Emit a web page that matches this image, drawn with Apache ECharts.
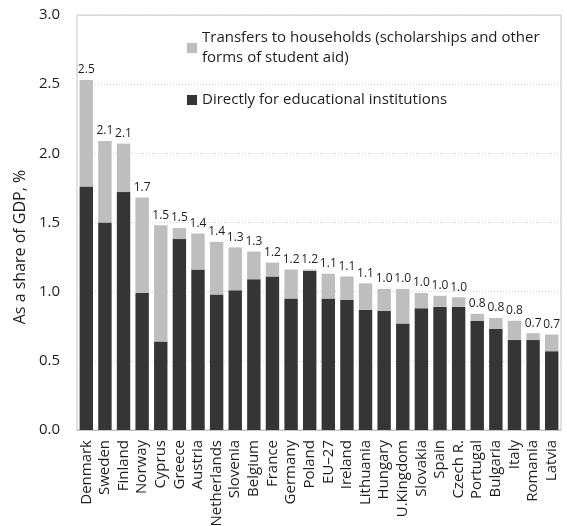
<!DOCTYPE html>
<html>
<head>
<meta charset="utf-8">
<script src="https://cdn.jsdelivr.net/npm/echarts@6/dist/echarts.min.js"></script>
<style>
  html, body { margin: 0; padding: 0; background: #fff; }
  #chart { width: 567px; height: 526px; }
</style>
</head>
<body>
<div id="chart"></div>
<script>
// Public expenditure on tertiary education, as a share of GDP (%)
const countries = ['Denmark', 'Sweden', 'Finland', 'Norway', 'Cyprus', 'Greece', 'Austria',
  'Netherlands', 'Slovenia', 'Belgium', 'France', 'Germany', 'Poland', 'EU\u201327', 'Ireland',
  'Lithuania', 'Hungary', 'U.Kingdom', 'Slovakia', 'Spain', 'Czech R.', 'Portugal', 'Bulgaria',
  'Italy', 'Romania', 'Latvia'];

// Spending directly for educational institutions
const institutions = [1.76, 1.50, 1.72, 0.99, 0.64, 1.38, 1.16, 0.98, 1.01, 1.09, 1.11, 0.95, 1.15,
  0.95, 0.94, 0.87, 0.86, 0.77, 0.88, 0.89, 0.89, 0.79, 0.73, 0.65, 0.65, 0.57];

// Transfers to households (scholarships and other student aid)
const transfers = [0.77, 0.59, 0.35, 0.69, 0.84, 0.08, 0.26, 0.38, 0.31, 0.20, 0.10, 0.21, 0.01,
  0.18, 0.17, 0.19, 0.16, 0.25, 0.11, 0.08, 0.07, 0.05, 0.08, 0.14, 0.05, 0.12];

const yTicks = [0, 0.5, 1.0, 1.5, 2.0, 2.5, 3.0];

const nameInst = 'Directly for educational institutions';
const nameTransfers = 'Transfers to households (scholarships and other forms of student aid)';

const totals = institutions.map((v, i) => v + transfers[i]);

const FONT = '"Open Sans", sans-serif';
const TXT = '#1e1e1e';

const chart = echarts.init(document.getElementById('chart'), null, { renderer: 'canvas' });

chart.setOption({
  animation: false,
  backgroundColor: '#ffffff',
  textStyle: { fontFamily: FONT },
  grid: {
    left: 77, right: 6, top: 15, bottom: 96,
    outerBoundsMode: 'none',
    containLabel: false,
    show: true, borderColor: '#c4c4c4', borderWidth: 1
  },
  legend: [
    {
      data: [nameTransfers],
      left: 187, top: 18, padding: 0,
      itemWidth: 10, itemHeight: 10,
      icon: 'rect',
      selectedMode: false,
      formatter: () => 'Transfers to households (scholarships and other\nforms of student aid)',
      textStyle: { fontFamily: FONT, fontSize: 15, color: TXT, lineHeight: 20, padding: [20, 0, 0, 0] }
    },
    {
      data: [nameInst],
      left: 187, top: 90, padding: 0,
      itemWidth: 10, itemHeight: 10,
      icon: 'rect',
      selectedMode: false,
      textStyle: { fontFamily: FONT, fontSize: 15, color: TXT, lineHeight: 20 }
    }
  ],
  xAxis: {
    type: 'category',
    data: countries,
    axisTick: { show: false },
    axisLine: { show: true, lineStyle: { color: '#c4c4c4', width: 1 } },
    axisLabel: {
      rotate: 90, interval: 0, margin: 10,
      fontFamily: FONT, fontSize: 15, color: TXT
    }
  },
  yAxis: {
    type: 'value',
    min: yTicks[0], max: yTicks[yTicks.length - 1], interval: 0.5,
    name: 'As a share of GDP, %',
    nameLocation: 'middle',
    nameGap: 48,
    nameRotate: 90,
    nameTextStyle: { fontFamily: FONT, fontSize: 16, color: TXT, padding: [0, 49, 0, 0] },
    axisLine: { show: false },
    axisTick: { show: false },
    axisLabel: {
      margin: 17, fontFamily: FONT, fontSize: 15, color: TXT,
      formatter: v => v.toFixed(1)
    },
    splitLine: { show: true, lineStyle: { color: '#cfcfcf', type: [1, 2], width: 1 } }
  },
  series: [
    {
      name: nameInst,
      type: 'bar',
      stack: 'total',
      data: institutions,
      barCategoryGap: '28%',
      itemStyle: { color: '#343534' }
    },
    {
      name: nameTransfers,
      type: 'bar',
      stack: 'total',
      data: transfers,
      barCategoryGap: '28%',
      itemStyle: { color: '#bebebe' },
      label: {
        show: true,
        position: 'top',
        distance: 4,
        fontFamily: FONT, fontSize: 12, color: TXT,
        formatter: p => totals[p.dataIndex].toFixed(1)
      }
    }
  ]
});
</script>
</body>
</html>
